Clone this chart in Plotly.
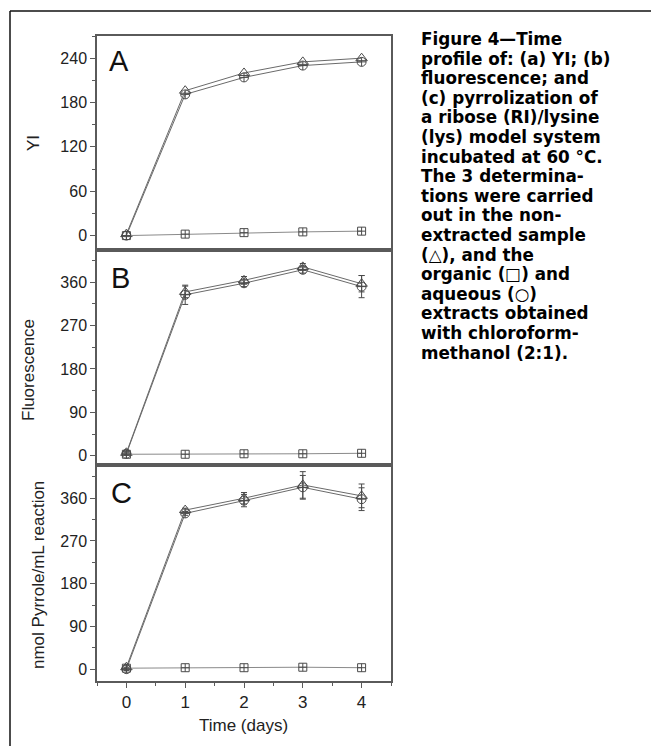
import plotly.graph_objects as go
from plotly.subplots import make_subplots

# ---------------- data ----------------
days = [0, 1, 2, 3, 4]

yi_tri = [2, 196, 220, 235, 240]
yi_circ = [0, 191, 214, 230, 235]
yi_sq = [0, 2, 4, 5, 6]

fl_tri = [6, 340, 364, 392, 357]
fl_circ = [4, 334, 358, 386, 351]
fl_sq = [3, 3, 4, 4, 5]
fl_tri_err = [3, 12, 8, 7, 17]
fl_circ_err = [3, 20, 7, 7, 23]

py_tri = [4, 335, 360, 388, 365]
py_circ = [0, 328, 355, 383, 358]
py_sq = [2, 3, 3, 4, 3]
py_tri_err = [3, 4, 12, 28, 25]
py_circ_err = [3, 4, 13, 25, 24]

x_ticks = [0, 1, 2, 3, 4]
yi_ticks = [0, 60, 120, 180, 240]
fl_ticks = [0, 90, 180, 270, 360]
py_ticks = [0, 90, 180, 270, 360]

panel_letters = ["A", "B", "C"]
y_titles = ["YI", "Fluorescence", "nmol Pyrrole/mL reaction"]
x_title = "Time (days)"

caption_lines = [
    "Figure 4\u2014Time",
    "profile of: (a) YI; (b)",
    "fluorescence; and",
    "(c) pyrrolization of",
    "a ribose (RI)/lysine",
    "(lys) model system",
    "incubated at 60 \u00b0C.",
    "The 3 determina-",
    "tions were carried",
    "out in the non-",
    "extracted sample",
    "(\u25b3), and the",
    "organic (\u25a1) and",
    "aqueous (\u25cb)",
    "extracts obtained",
    "with chloroform-",
    "methanol (2:1).",
]

# ---------------- layout geometry (reference pixel coords) ----------------
OFF = 8                      # default page body margin
W, H = 659 - OFF, 746 - OFF
L, R, T, B = 97, 391, 36, 681  # plot area in reference page pixels
pw, ph = R - L, B - T


def px(xp):
    return (xp - L) / pw


def py(yp):
    return (B - yp) / ph


fig = make_subplots(rows=3, cols=1, shared_xaxes=True, vertical_spacing=0,
                    row_heights=[214, 215, 216])

LINE = "#6a6a6a"
MARK = "#4a4a4a"
SQL = "#8a8a8a"
AXC = "#5a5a5a"


def add_panel(row, tri, circ, sq, tri_err=None, circ_err=None):
    fig.add_trace(go.Scatter(
        x=days, y=circ, mode="lines+markers",
        line=dict(color=LINE, width=1),
        marker=dict(symbol="circle-cross-open", size=9, color=MARK,
                    line=dict(width=1, color=MARK)),
        error_y=(dict(type="data", array=circ_err, color=MARK, thickness=1, width=3)
                 if circ_err else None),
        showlegend=False), row=row, col=1)
    fig.add_trace(go.Scatter(
        x=days, y=tri, mode="lines+markers",
        line=dict(color=LINE, width=1),
        marker=dict(symbol="triangle-up-open", size=10, color=MARK,
                    line=dict(width=1, color=MARK)),
        error_y=(dict(type="data", array=tri_err, color=MARK, thickness=1, width=3)
                 if tri_err else None),
        showlegend=False), row=row, col=1)
    fig.add_trace(go.Scatter(
        x=days, y=sq, mode="lines+markers",
        line=dict(color=SQL, width=1),
        marker=dict(symbol="square-cross-open", size=8, color=MARK,
                    line=dict(width=1, color=MARK)),
        showlegend=False), row=row, col=1)


add_panel(1, yi_tri, yi_circ, yi_sq)
add_panel(2, fl_tri, fl_circ, fl_sq, fl_tri_err, fl_circ_err)
add_panel(3, py_tri, py_circ, py_sq, py_tri_err, py_circ_err)

FONT = "Liberation Sans, Arial, sans-serif"
tickfont = dict(family=FONT, size=16, color="#222222")
common = dict(showline=True, linecolor=AXC, linewidth=1.5, mirror=True,
              showgrid=False, zeroline=False)

for r in (1, 2, 3):
    fig.update_xaxes(range=[-0.5, 4.5], tickvals=x_ticks, row=r, col=1, **common)
fig.update_xaxes(ticks="", showticklabels=False, row=1, col=1)
fig.update_xaxes(ticks="", showticklabels=False, row=2, col=1)
fig.update_xaxes(ticks="outside", ticklen=5, tickcolor=AXC, tickwidth=1,
                 showticklabels=True, tickfont=dict(family=FONT, size=17, color="#222222"),
                 minor=dict(ticks="outside", ticklen=3, dtick=0.5, tickcolor=AXC),
                 row=3, col=1)

yranges = [[-19.5, 270], [-19.3, 427], [-25, 430]]
yticks = [yi_ticks, fl_ticks, py_ticks]
minors = [30, 45, 45]
for i, r in enumerate((1, 2, 3)):
    fig.update_yaxes(range=yranges[i], tickvals=yticks[i], ticks="outside",
                     ticklen=5, tickcolor=AXC, tickwidth=1, tickfont=tickfont,
                     minor=dict(ticks="outside", ticklen=3, dtick=minors[i], tickcolor=AXC),
                     row=r, col=1, **common)

annotations = []
# panel letters
letter_pos = [(107, 61), (109, 278), (109, 493)]
for lt, (lx, ly) in zip(panel_letters, letter_pos):
    annotations.append(dict(text=lt, xref="paper", yref="paper", x=px(lx), y=py(ly),
                            xanchor="left", yanchor="middle", showarrow=False,
                            font=dict(family=FONT, size=29, color="#111")))
# y titles
title_pos = [(33, 143), (28, 370), (38, 575)]
for t, (tx, ty) in zip(y_titles, title_pos):
    annotations.append(dict(text=t, xref="paper", yref="paper", x=px(tx), y=py(ty),
                            xanchor="center", yanchor="middle", textangle=-90,
                            showarrow=False,
                            font=dict(family=FONT, size=17, color="#222")))
# x title
annotations.append(dict(text=x_title, xref="paper", yref="paper", x=px(243), y=py(725),
                        xanchor="center", yanchor="middle", showarrow=False,
                        font=dict(family=FONT, size=17, color="#222")))
# caption
for i, line in enumerate(caption_lines):
    annotations.append(dict(text="<b>" + line + "</b>", xref="paper", yref="paper",
                            x=px(421), y=py(39 + 19.6 * i), borderpad=0, borderwidth=0,
                            xanchor="left", yanchor="middle", showarrow=False,
                            font=dict(family="DejaVu Sans", size=16.8, color="#000")))

shapes = [
    dict(type="line", xref="paper", yref="paper", x0=px(10), x1=px(670), y0=py(11), y1=py(11),
         line=dict(color="#111", width=1.5)),
    dict(type="line", xref="paper", yref="paper", x0=px(10), x1=px(10), y0=py(11), y1=py(760),
         line=dict(color="#111", width=1.5)),
]

fig.update_layout(width=W, height=H,
                  margin=dict(l=L - OFF, r=(W + OFF) - R, t=T - OFF, b=(H + OFF) - B),
                  paper_bgcolor="white", plot_bgcolor="white",
                  annotations=annotations, shapes=shapes, showlegend=False)

fig.write_html("out.html")
